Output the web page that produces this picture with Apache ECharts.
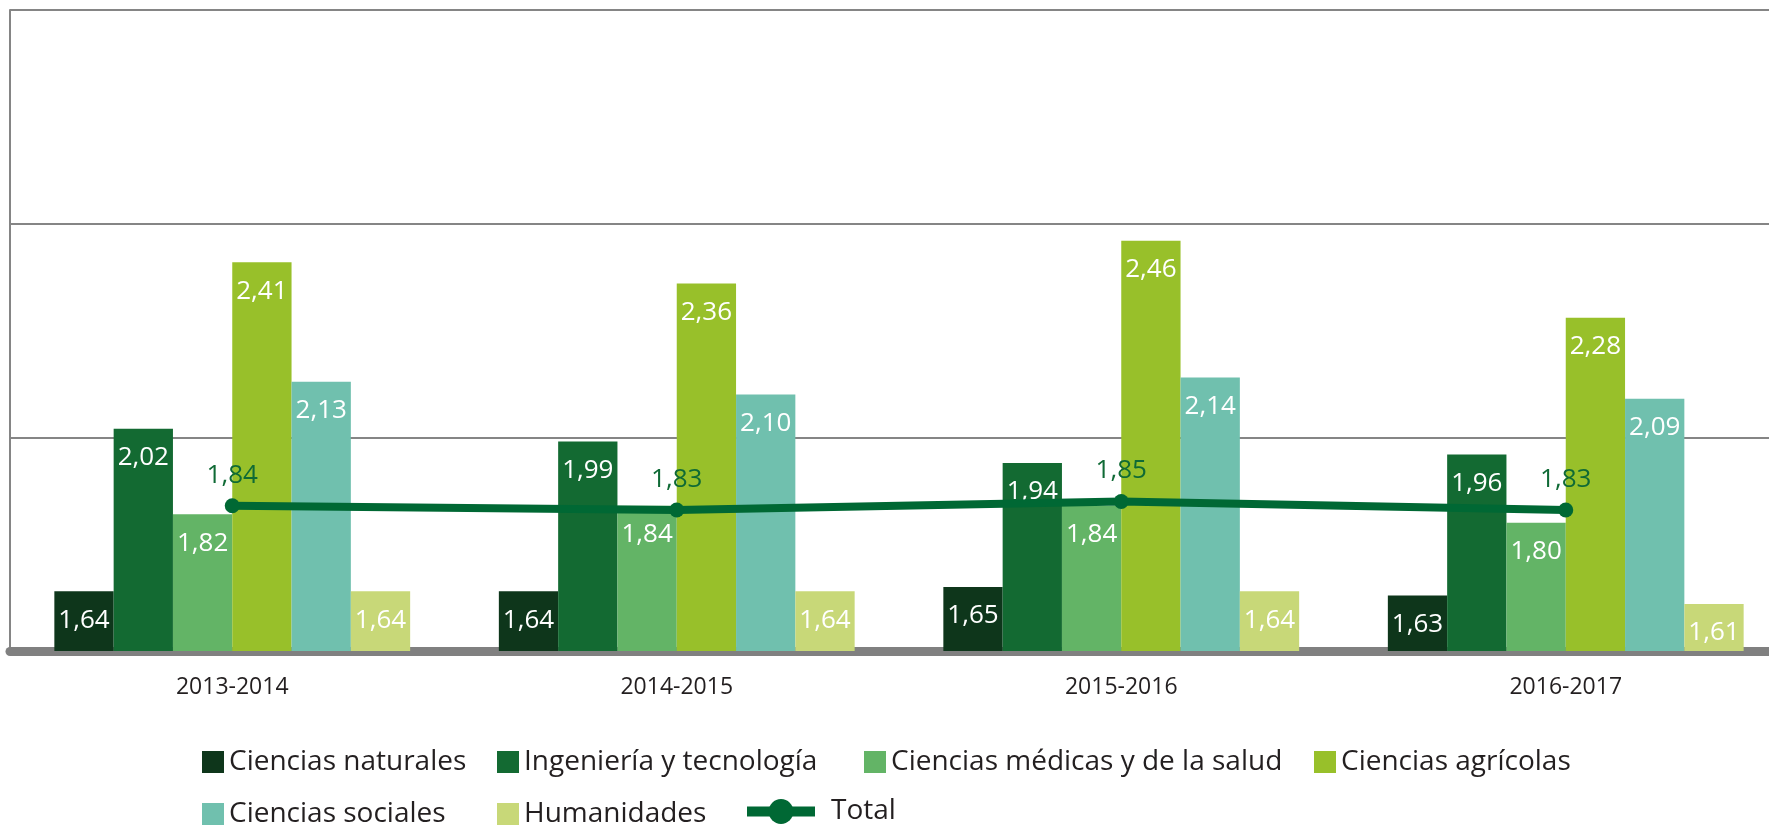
<!DOCTYPE html>
<html>
<head>
<meta charset="utf-8">
<title>Ciencias</title>
<script src="https://cdn.jsdelivr.net/npm/echarts@6/dist/echarts.min.js"></script>
<style>
    html, body { margin: 0; padding: 0; background: #fff; }
    #main { width: 1769px; height: 825px; }
</style>
</head>
<body>
<div id="main"></div>
<script>
// datos
var years = ['2013-2014', '2014-2015', '2015-2016', '2016-2017']
var naturales = [1.64, 1.64, 1.65, 1.63]
var ingenieria = [2.02, 1.99, 1.94, 1.96]
var medicas = [1.82, 1.84, 1.84, 1.80]
var agricolas = [2.41, 2.36, 2.46, 2.28]
var sociales = [2.13, 2.10, 2.14, 2.09]
var humanidades = [1.64, 1.64, 1.64, 1.61]
var total = [1.84, 1.83, 1.85, 1.83]

var barNames = ['Ciencias naturales', 'Ingeniería y tecnología', 'Ciencias médicas y de la salud', 'Ciencias agrícolas', 'Ciencias sociales', 'Humanidades']
var barData = [naturales, ingenieria, medicas, agricolas, sociales, humanidades]
var barColors = ['#0e361b', '#136a32', '#63b466', '#98c02a', '#70c0ae', '#c8d878']
var lineColor = '#006834'

var FONT = 'Open Sans'

// posiciones de la leyenda (izq, arriba)
var legendSlots = [[202, 748], [497, 748], [864, 748], [1314, 748], [202, 800], [497, 800], [742, 796]]

function fmt (v) {
    return v.toFixed(2).replace('.', ',')
}

function initChart () {
    var myChart = echarts.init(document.getElementById('main'))

    var series = barNames.map(function (name, i) {
        return {
            name: name,
            type: 'bar',
            barWidth: 59.3,
            barGap: '0%',
            barCategoryGap: '20%',
            itemStyle: { color: barColors[i] },
            label: {
                show: true,
                position: 'insideTop',
                distance: 16,
                color: '#fff',
                fontFamily: FONT,
                fontWeight: 500,
                fontSize: 26,
                formatter: function (p) { return fmt(p.value) }
            },
            data: barData[i]
        }
    })
    series.push({
        name: 'Total',
        type: 'line',
        symbol: 'circle',
        symbolSize: 15,
        z: 5,
        lineStyle: { color: lineColor, width: 8 },
        itemStyle: { color: lineColor },
        label: {
            show: true,
            position: 'top',
            distance: 10,
            color: '#0f6a35',
            fontFamily: FONT,
            fontWeight: 500,
            fontSize: 26,
            formatter: function (p) { return fmt(p.value) }
        },
        data: total
    })

    var legendNames = barNames.concat(['Total'])
    var legends = legendNames.map(function (name, i) {
        var isLine = name === 'Total'
        return {
            data: [name],
            left: legendSlots[i][0],
            top: legendSlots[i][1],
            padding: 0,
            selectedMode: false,
            icon: isLine ? undefined : 'rect',
            itemWidth: isLine ? 68 : 22,
            itemHeight: isLine ? 31 : 22,
            lineStyle: isLine ? { width: 10 } : undefined,
            textStyle: {
                fontFamily: FONT,
                fontWeight: 500,
                fontSize: 28,
                lineHeight: isLine ? 31 : 22,
                color: '#231f20',
                padding: isLine ? [0, 0, 0, 11] : 0
            }
        }
    })

    var option = {
        animation: false,
        grid: {
            left: 10,
            top: 10,
            width: 1778,
            bottom: 174,
            containLabel: false,
            outerBoundsMode: 'none'
        },
        legend: legends,
        xAxis: {
            type: 'category',
            data: years,
            axisTick: { show: false },
            axisLine: { lineStyle: { color: '#808080', width: 9 } },
            axisLabel: {
                margin: 25,
                color: '#231f20',
                fontFamily: FONT,
                fontWeight: 500,
                fontSize: 23
            }
        },
        yAxis: {
            type: 'value',
            min: 1.5,
            max: 3,
            interval: 0.5,
            axisLabel: { show: false },
            axisTick: { show: false },
            axisLine: { show: true, lineStyle: { color: '#858585', width: 2 } },
            splitLine: { lineStyle: { color: '#858585', width: 2 } }
        },
        series: series
    }
    myChart.setOption(option)
}

initChart()
</script>
</body>
</html>
